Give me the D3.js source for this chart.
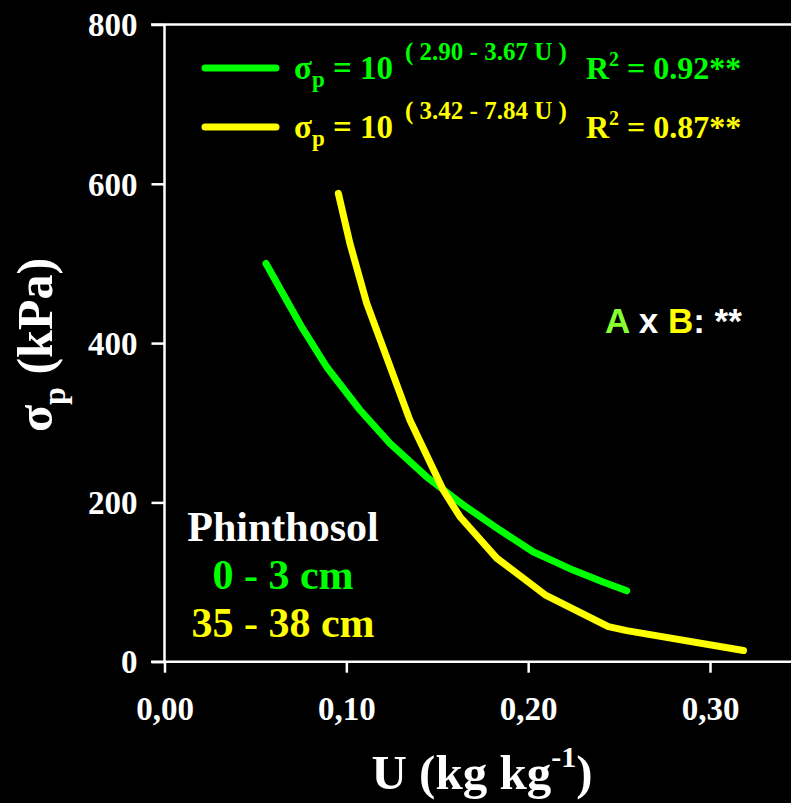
<!DOCTYPE html>
<html>
<head>
<meta charset="utf-8">
<script src="https://cdnjs.cloudflare.com/ajax/libs/d3/7.8.5/d3.min.js"></script>
<style>
body{margin:0;background:#000;}
svg{display:block;background:#000;}
text{font-family:"Liberation Serif","Times New Roman",serif;font-weight:bold;}
</style>
</head>
<body>
<svg id="chart"></svg>
<script>
var width = 791, height = 803;

// teor de agua (U) x pressao de preconsolidacao
var green = [[0.0558,500],[0.0755,420],[0.0892,370],[0.1075,316],[0.124,274],[0.1442,232],[0.1642,197],[0.1846,165],[0.2027,138],[0.2247,115],[0.2412,100],[0.2542,89]];
var yellow = [[0.0956,588],[0.102,525],[0.1112,450],[0.135,303],[0.1534,215],[0.1625,182],[0.1827,130],[0.2093,84],[0.2441,44],[0.2542,39],[0.3184,14]];
var xTicks = [0,0.1,0.2,0.3];
var yTicks = [0,200,400,600,800];
var eqCoef = ["( 2.90 - 3.67 U )","( 3.42 - 7.84 U )"];
var eqR2 = ["0.92**","0.87**"];
var cores = ["#00ff00","#ffff00"];
var camadas = ["0 - 3 cm","35 - 38 cm"];

var svg = d3.select("#chart").attr("width",width).attr("height",height);

var x = d3.scaleLinear().domain([0,0.3]).range([164.5,710]);
var y = d3.scaleLinear().domain([0,800]).range([661.7,24.5]);

// eixo x
var gx = svg.append("g").attr("transform","translate(0,"+y(0)+")")
	.call(d3.axisBottom(x).tickValues(xTicks).tickSize(11).tickSizeOuter(0)
		.tickFormat(function(d){return d3.format(".2f")(d).replace(".",",");}));
gx.select(".domain").remove();
gx.selectAll("line").attr("stroke","#fff").attr("stroke-width",2.5);
gx.selectAll("text").attr("fill","#fff").attr("font-size",33).attr("y",0).attr("dy",58);
svg.append("line").attr("x1",151).attr("x2",width).attr("y1",y(0)).attr("y2",y(0))
	.attr("stroke","#fff").attr("stroke-width",2.5);

// eixo y
var gy = svg.append("g").attr("transform","translate("+x(0)+",0)")
	.call(d3.axisLeft(y).tickValues(yTicks).tickSize(13).tickSizeOuter(0).tickPadding(14));
gy.select(".domain").remove();
gy.selectAll("line").attr("stroke","#fff").attr("stroke-width",2.5);
gy.selectAll("text").attr("fill","#fff").attr("font-size",33).attr("dy","0.34em");
svg.append("line").attr("x1",x(0)).attr("x2",x(0)).attr("y1",y(800)).attr("y2",y(0))
	.attr("stroke","#fff").attr("stroke-width",2.5);
svg.append("line").attr("x1",151).attr("x2",width).attr("y1",y(800)).attr("y2",y(800))
	.attr("stroke","#fff").attr("stroke-width",2.5);

// curvas
var line = d3.line().x(function(d){return x(d[0]);}).y(function(d){return y(d[1]);});
[green,yellow].forEach(function(s,i){
	svg.append("path").datum(s).attr("d",line).attr("fill","none")
		.attr("stroke",cores[i]).attr("stroke-width",7)
		.attr("stroke-linecap","round").attr("stroke-linejoin","round");
});

// legenda
eqCoef.forEach(function(c,i){
	var yy = 79 + i*59;
	svg.append("line").attr("x1",205).attr("x2",276).attr("y1",yy-11).attr("y2",yy-11)
		.attr("stroke",cores[i]).attr("stroke-width",7).attr("stroke-linecap","round");
	var t = svg.append("text").attr("x",294).attr("y",yy).attr("fill",cores[i]).attr("font-size",33);
	t.append("tspan").text("σ");
	t.append("tspan").attr("font-size",23).attr("dy",8).text("p");
	t.append("tspan").attr("dy",-8).text(" = 10");
	svg.append("text").attr("x",405).attr("y",yy-19).attr("fill",cores[i]).attr("font-size",25).text(c);
	var r = svg.append("text").attr("x",586).attr("y",yy).attr("fill",cores[i]).attr("font-size",32);
	r.append("tspan").text("R");
	r.append("tspan").attr("font-size",20).attr("dy",-13).text("2");
	r.append("tspan").attr("dy",13).text(" = "+eqR2[i]);
});

// interacao
var ab = svg.append("text").attr("x",605).attr("y",333).attr("font-size",35)
	.style("font-family","'Liberation Sans',Arial,sans-serif");
ab.append("tspan").attr("fill","#88ff33").text("A");
ab.append("tspan").attr("fill","#fff").text(" x ");
ab.append("tspan").attr("fill","#ffff00").text("B");
ab.append("tspan").attr("fill","#fff").text(": **");

// solo e camadas
svg.append("text").attr("x",283).attr("y",541).attr("text-anchor","middle")
	.attr("fill","#fff").attr("font-size",42).text("Phinthosol");
camadas.forEach(function(c,i){
	svg.append("text").attr("x",283).attr("y",589+i*48).attr("text-anchor","middle")
		.attr("fill",cores[i]).attr("font-size",42).text(c);
});

// titulos
var xt = svg.append("text").attr("x",482).attr("y",789).attr("text-anchor","middle")
	.attr("fill","#fff").attr("font-size",49);
xt.append("tspan").text("U (kg kg");
xt.append("tspan").attr("font-size",30).attr("dy",-22).text("-1");
xt.append("tspan").attr("dy",22).text(")");

var yt = svg.append("text").attr("transform","translate(52,345) rotate(-90)")
	.attr("text-anchor","middle").attr("fill","#fff").attr("font-size",50);
yt.append("tspan").text("σ");
yt.append("tspan").attr("font-size",32).attr("dy",13).text("p");
yt.append("tspan").attr("dy",-13).text(" (kPa)");
</script>
</body>
</html>
